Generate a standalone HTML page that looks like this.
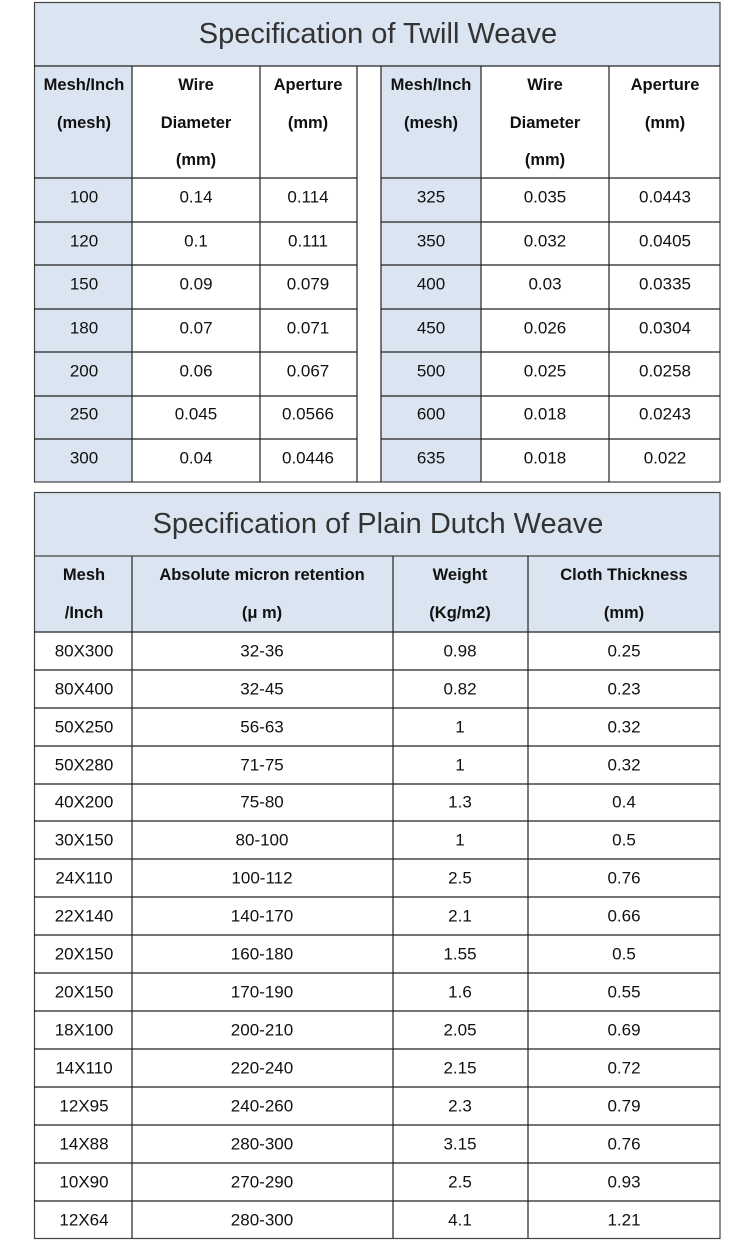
<!DOCTYPE html>
<html><head><meta charset="utf-8"><style>
html,body{margin:0;padding:0;background:#fff;width:750px;height:1255px;overflow:hidden}
svg{display:block}
.t{font-family:"Liberation Sans",Arial,sans-serif;font-size:29px;fill:#333}
.h{font-family:"Liberation Sans",Arial,sans-serif;font-size:16.5px;font-weight:bold;fill:#111}
.d{font-family:"Liberation Sans",Arial,sans-serif;font-size:17px;fill:#111}
</style></head><body>
<svg width="750" height="1255" viewBox="0 0 750 1255" xmlns="http://www.w3.org/2000/svg" text-anchor="middle" dominant-baseline="central">
<rect x="34" y="2" width="686" height="64" fill="#dbe5f1"/>
<rect x="34" y="66" width="98" height="416" fill="#dbe5f1"/>
<rect x="381" y="66" width="100" height="416" fill="#dbe5f1"/>
<g stroke="#222" stroke-width="1.2" fill="none">
<rect x="34.5" y="2.5" width="685.5" height="479.5" stroke="#444"/>
<line x1="34" y1="66" x2="720" y2="66"/>
<line x1="132" y1="66" x2="132" y2="482"/>
<line x1="260" y1="66" x2="260" y2="482"/>
<line x1="357" y1="66" x2="357" y2="482"/>
<line x1="381" y1="66" x2="381" y2="482"/>
<line x1="481" y1="66" x2="481" y2="482"/>
<line x1="609" y1="66" x2="609" y2="482"/>
<path d="M34 178H357M381 178H720M34 222H357M381 222H720M34 265H357M381 265H720M34 309H357M381 309H720M34 352H357M381 352H720M34 396H357M381 396H720M34 439H357M381 439H720"/>
</g>
<text class="t" x="378" y="34">Specification of Twill Weave</text>
<g class="h">
<text x="84" y="85">Mesh/Inch</text><text x="84" y="123">(mesh)</text>
<text x="196" y="85">Wire</text><text x="196" y="123">Diameter</text><text x="196" y="160">(mm)</text>
<text x="308" y="85">Aperture</text><text x="308" y="123">(mm)</text>
<text x="431" y="85">Mesh/Inch</text><text x="431" y="123">(mesh)</text>
<text x="545" y="85">Wire</text><text x="545" y="123">Diameter</text><text x="545" y="160">(mm)</text>
<text x="665" y="85">Aperture</text><text x="665" y="123">(mm)</text>
</g>
<g class="d">
<text x="84" y="197">100</text><text x="196" y="197">0.14</text><text x="308" y="197">0.114</text><text x="431" y="197">325</text><text x="545" y="197">0.035</text><text x="665" y="197">0.0443</text>
<text x="84" y="241">120</text><text x="196" y="241">0.1</text><text x="308" y="241">0.111</text><text x="431" y="241">350</text><text x="545" y="241">0.032</text><text x="665" y="241">0.0405</text>
<text x="84" y="284">150</text><text x="196" y="284">0.09</text><text x="308" y="284">0.079</text><text x="431" y="284">400</text><text x="545" y="284">0.03</text><text x="665" y="284">0.0335</text>
<text x="84" y="328">180</text><text x="196" y="328">0.07</text><text x="308" y="328">0.071</text><text x="431" y="328">450</text><text x="545" y="328">0.026</text><text x="665" y="328">0.0304</text>
<text x="84" y="371">200</text><text x="196" y="371">0.06</text><text x="308" y="371">0.067</text><text x="431" y="371">500</text><text x="545" y="371">0.025</text><text x="665" y="371">0.0258</text>
<text x="84" y="414">250</text><text x="196" y="414">0.045</text><text x="308" y="414">0.0566</text><text x="431" y="414">600</text><text x="545" y="414">0.018</text><text x="665" y="414">0.0243</text>
<text x="84" y="458">300</text><text x="196" y="458">0.04</text><text x="308" y="458">0.0446</text><text x="431" y="458">635</text><text x="545" y="458">0.018</text><text x="665" y="458">0.022</text>
</g>
<rect x="34" y="492" width="686" height="140" fill="#dbe5f1"/>
<g stroke="#222" stroke-width="1.2" fill="none">
<rect x="34.5" y="492.5" width="685.5" height="746" stroke="#444"/>
<line x1="34" y1="556" x2="720" y2="556" stroke="#444"/>
<line x1="132" y1="556" x2="132" y2="1238"/>
<line x1="393" y1="556" x2="393" y2="1238"/>
<line x1="528" y1="556" x2="528" y2="1238"/>
<path d="M34 632H720M34 670H720M34 708H720M34 746H720M34 784H720M34 821H720M34 859H720M34 897H720M34 935H720M34 973H720M34 1011H720M34 1049H720M34 1087H720M34 1125H720M34 1163H720M34 1201H720"/>
</g>
<text class="t" x="378" y="524">Specification of Plain Dutch Weave</text>
<g class="h">
<text x="84" y="575">Mesh</text><text x="84" y="613">/Inch</text>
<text x="262" y="575">Absolute micron retention</text><text x="262" y="613">(μ m)</text>
<text x="460" y="575">Weight</text><text x="460" y="613">(Kg/m2)</text>
<text x="624" y="575">Cloth Thickness</text><text x="624" y="613">(mm)</text>
</g>
<g class="d">
<text x="84" y="651">80X300</text><text x="262" y="651">32-36</text><text x="460" y="651">0.98</text><text x="624" y="651">0.25</text>
<text x="84" y="689">80X400</text><text x="262" y="689">32-45</text><text x="460" y="689">0.82</text><text x="624" y="689">0.23</text>
<text x="84" y="727">50X250</text><text x="262" y="727">56-63</text><text x="460" y="727">1</text><text x="624" y="727">0.32</text>
<text x="84" y="765">50X280</text><text x="262" y="765">71-75</text><text x="460" y="765">1</text><text x="624" y="765">0.32</text>
<text x="84" y="802">40X200</text><text x="262" y="802">75-80</text><text x="460" y="802">1.3</text><text x="624" y="802">0.4</text>
<text x="84" y="840">30X150</text><text x="262" y="840">80-100</text><text x="460" y="840">1</text><text x="624" y="840">0.5</text>
<text x="84" y="878">24X110</text><text x="262" y="878">100-112</text><text x="460" y="878">2.5</text><text x="624" y="878">0.76</text>
<text x="84" y="916">22X140</text><text x="262" y="916">140-170</text><text x="460" y="916">2.1</text><text x="624" y="916">0.66</text>
<text x="84" y="954">20X150</text><text x="262" y="954">160-180</text><text x="460" y="954">1.55</text><text x="624" y="954">0.5</text>
<text x="84" y="992">20X150</text><text x="262" y="992">170-190</text><text x="460" y="992">1.6</text><text x="624" y="992">0.55</text>
<text x="84" y="1030">18X100</text><text x="262" y="1030">200-210</text><text x="460" y="1030">2.05</text><text x="624" y="1030">0.69</text>
<text x="84" y="1068">14X110</text><text x="262" y="1068">220-240</text><text x="460" y="1068">2.15</text><text x="624" y="1068">0.72</text>
<text x="84" y="1106">12X95</text><text x="262" y="1106">240-260</text><text x="460" y="1106">2.3</text><text x="624" y="1106">0.79</text>
<text x="84" y="1144">14X88</text><text x="262" y="1144">280-300</text><text x="460" y="1144">3.15</text><text x="624" y="1144">0.76</text>
<text x="84" y="1182">10X90</text><text x="262" y="1182">270-290</text><text x="460" y="1182">2.5</text><text x="624" y="1182">0.93</text>
<text x="84" y="1220">12X64</text><text x="262" y="1220">280-300</text><text x="460" y="1220">4.1</text><text x="624" y="1220">1.21</text>
</g>
</svg>
</body></html>
